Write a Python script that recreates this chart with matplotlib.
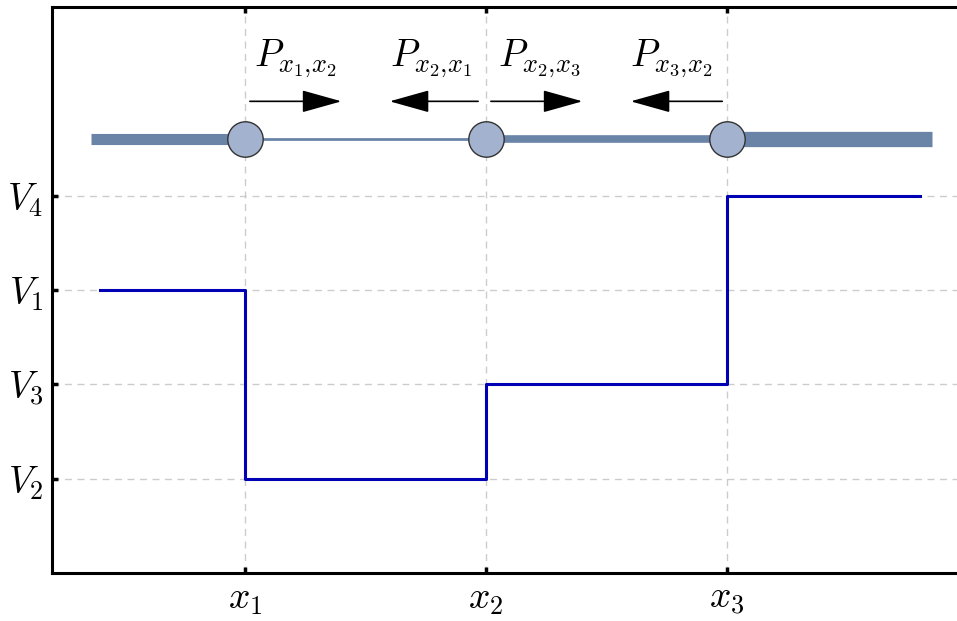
import numpy as np
import matplotlib.pyplot as plt

plt.rcParams['mathtext.fontset'] = 'cm'

# site positions and potential levels
sites = [1, 2, 3]
site_labels = [r'$x_1$', r'$x_2$', r'$x_3$']
levels = [1, 2, 3, 4]
level_labels = [r'$V_2$', r'$V_3$', r'$V_1$', r'$V_4$']

# piecewise potential (post steps)
step_x = [0.4, 1, 2, 3, 3.8]
step_y = [3, 1, 2, 4, 4]

# bond segments of the chain and their widths
seg_x = [(0.36, 1), (1, 2), (2, 3), (3, 3.85)]
seg_w = [8, 2, 5.5, 11]
chain_y = 4.6

# hopping arrows: (start, end, label, label x)
arrows = [(1.02, 1.40, r'$P_{x_1{,}x_2}$', 1.21),
          (1.967, 1.60, r'$P_{x_2{,}x_1}$', 1.77),
          (2.02, 2.40, r'$P_{x_2{,}x_3}$', 2.22),
          (2.98, 2.60, r'$P_{x_3{,}x_2}$', 2.77)]
arrow_y = 5.0
label_y = 5.45

fig = plt.figure(figsize=(9.57, 6.21), dpi=100)
ax = fig.add_axes([52/957, 48/621, 1 - 52/957, 566/621])

ax.set_xlim(0.199, 3.954)
ax.set_ylim(0, 6)

# chain
for (xa, xb), w in zip(seg_x, seg_w):
    ax.plot([xa, xb], [chain_y, chain_y], color='#6a84a8', lw=w,
            solid_capstyle='butt', zorder=3)
ax.scatter(sites, [chain_y]*3, s=650, facecolor='#a3b3cf',
           edgecolor='#333333', linewidth=1.0, zorder=4)

# arrows and rates
for xs, xe, lab, lx in arrows:
    ax.annotate('', xy=(xe, arrow_y), xytext=(xs, arrow_y),
                arrowprops=dict(arrowstyle='-|>,head_length=2.5,head_width=0.7',
                                color='black', lw=1.2, shrinkA=0, shrinkB=0))
    ax.text(lx, label_y, lab, ha='center', va='center', fontsize=27)

# potential
ax.step(step_x, step_y, where='post', color='#0000b4', lw=2.2, zorder=2)

ax.set_xticks(sites)
ax.set_xticklabels(site_labels, fontsize=27)
ax.set_yticks(levels)
ax.set_yticklabels(level_labels, fontsize=27)
ax.grid(True, color='#cccccc', linestyle=(0, (5, 4)), lw=1)
ax.tick_params(direction='in', length=4, width=2.5, top=True, right=False, pad=6)
for side in ['left', 'bottom', 'top']:
    ax.spines[side].set_linewidth(2.2)
ax.spines['right'].set_visible(False)

fig.savefig('out.png', dpi=100)
